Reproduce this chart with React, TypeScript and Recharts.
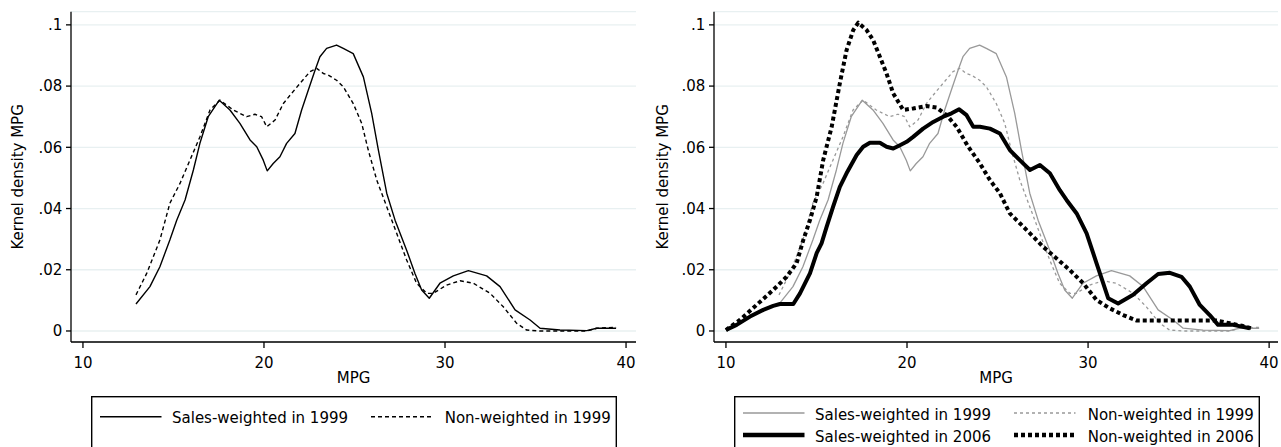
import React from "react";
import { LineChart, Line, XAxis, YAxis, CartesianGrid, Legend } from "recharts";

// kernel density estimates of MPG
const sales1999Mpg = [12.93, 13.7, 14.25, 14.8, 15.18, 15.64, 16.1, 16.46, 16.92, 17.53, 18.12, 18.67, 19.23, 19.6, 19.96, 20.18, 20.51, 20.88, 21.25, 21.71, 22.08, 22.45, 22.82, 23.09, 23.46, 24.01, 24.38, 24.93, 25.49, 25.95, 26.32, 26.78, 27.24, 27.88, 28.34, 28.71, 29.13, 29.72, 30.46, 31.29, 32.3, 33.04, 33.87, 34.7, 35.25, 36.35, 37.83, 38.38, 39.45];
const sales1999Density = [0.0088, 0.0145, 0.021, 0.0297, 0.0362, 0.0428, 0.0526, 0.0613, 0.07, 0.0754, 0.0722, 0.0678, 0.0624, 0.0602, 0.0558, 0.0523, 0.0547, 0.0569, 0.0613, 0.0645, 0.0722, 0.0787, 0.0852, 0.0896, 0.0923, 0.0934, 0.0923, 0.0906, 0.083, 0.0711, 0.0591, 0.045, 0.0362, 0.0264, 0.0188, 0.0134, 0.0107, 0.0156, 0.018, 0.0197, 0.018, 0.0145, 0.0069, 0.0036, 0.0009, 0.0003, 0.0001, 0.0009, 0.0009];

const nonw1999Mpg = [12.93, 13.52, 14.25, 14.8, 15.36, 15.91, 16.46, 17.02, 17.57, 18.3, 19.04, 19.5, 19.87, 20.15, 20.61, 21.07, 21.44, 21.99, 22.54, 22.91, 23.28, 23.55, 24.01, 24.38, 24.93, 25.4, 25.76, 26.23, 26.78, 27.33, 27.88, 28.43, 28.99, 29.35, 30.09, 30.83, 31.56, 32.49, 33.22, 33.96, 34.51, 35.25, 37.83, 38.38, 39.45];
const nonw1999Density = [0.0118, 0.0188, 0.0297, 0.0417, 0.0482, 0.0558, 0.0634, 0.0722, 0.0754, 0.0722, 0.07, 0.0708, 0.07, 0.0667, 0.0689, 0.0743, 0.077, 0.0809, 0.0847, 0.0858, 0.0841, 0.0836, 0.0819, 0.0798, 0.0743, 0.0678, 0.0591, 0.0493, 0.0406, 0.0319, 0.0232, 0.0156, 0.0123, 0.0123, 0.015, 0.0164, 0.0156, 0.0123, 0.0079, 0.0025, 0.0003, 0, 0, 0.0009, 0.0012];

const sales2006Mpg = [10.0, 10.59, 11.33, 12.06, 12.61, 12.98, 13.72, 14.09, 14.64, 15.01, 15.28, 15.56, 15.92, 16.29, 16.66, 17.22, 17.58, 17.95, 18.5, 18.87, 19.24, 19.61, 19.98, 20.34, 20.89, 21.45, 22.0, 22.46, 22.88, 23.29, 23.66, 24.03, 24.58, 25.13, 25.68, 26.23, 26.79, 27.34, 27.89, 28.44, 28.81, 29.37, 29.92, 30.47, 31.11, 31.66, 32.49, 33.23, 33.87, 34.52, 35.16, 35.62, 36.17, 36.72, 37.18, 38.01, 38.93];
const sales2006Density = [0.0003, 0.002, 0.0047, 0.0069, 0.0082, 0.0088, 0.0088, 0.0123, 0.0188, 0.0254, 0.0286, 0.034, 0.0406, 0.0471, 0.0515, 0.0575, 0.0602, 0.0615, 0.0615, 0.0602, 0.0596, 0.0607, 0.0618, 0.0634, 0.0661, 0.0683, 0.07, 0.0711, 0.0724, 0.0705, 0.0667, 0.0667, 0.0661, 0.0645, 0.0591, 0.0558, 0.0526, 0.0542, 0.0515, 0.046, 0.0428, 0.0384, 0.0319, 0.0221, 0.0107, 0.009, 0.0118, 0.0156, 0.0186, 0.019, 0.0177, 0.0145, 0.0085, 0.0052, 0.002, 0.002, 0.0009];

const nonw2006Mpg = [10.0, 10.77, 11.69, 12.61, 13.35, 13.9, 14.27, 14.64, 15.01, 15.37, 15.84, 16.29, 16.66, 17.03, 17.31, 17.77, 18.13, 18.5, 18.87, 19.24, 19.79, 20.34, 21.08, 21.63, 22.19, 22.74, 23.38, 24.03, 24.58, 25.13, 25.68, 26.23, 26.79, 27.52, 28.26, 28.99, 29.73, 30.47, 31.2, 31.94, 32.68, 35.25, 37.09, 37.83, 38.57, 39.03];
const nonw2006Density = [0.0003, 0.0036, 0.0085, 0.0134, 0.0177, 0.0221, 0.0297, 0.0362, 0.0438, 0.0558, 0.0667, 0.0809, 0.0917, 0.0983, 0.1007, 0.0983, 0.095, 0.0896, 0.0841, 0.0776, 0.0722, 0.0727, 0.0735, 0.073, 0.0705, 0.0667, 0.0602, 0.0547, 0.0493, 0.045, 0.0384, 0.0352, 0.0319, 0.0275, 0.0237, 0.0199, 0.0156, 0.0101, 0.0074, 0.0052, 0.0034, 0.0034, 0.0034, 0.0025, 0.0016, 0.0009];

const xTicks = [10, 20, 30, 40];
const yTicks = [0, 0.02, 0.04, 0.06, 0.08, 0.1];

const toPoints = (mpg: number[], density: number[]) =>
  mpg.map((m, i) => ({ mpg: m, density: density[i] }));

const FONT = "DejaVu Sans";
const GRID = "#e8f0f1";
const GRAY = "#999999";

type Series = {
  key: string;
  name: string;
  data: { mpg: number; density: number }[];
  stroke: string;
  width: number;
  dash?: string;
  legendWidth?: number;
};

const leftSeries: Series[] = [
  { key: "s99", name: "Sales-weighted in 1999", data: toPoints(sales1999Mpg, sales1999Density), stroke: "#000", width: 1.4 },
  { key: "n99", name: "Non-weighted in 1999", data: toPoints(nonw1999Mpg, nonw1999Density), stroke: "#000", width: 1.4, dash: "4 3" },
];

const rightSeries: Series[] = [
  { key: "s99", name: "Sales-weighted in 1999", data: toPoints(sales1999Mpg, sales1999Density), stroke: GRAY, width: 1.3 },
  { key: "n99", name: "Non-weighted in 1999", data: toPoints(nonw1999Mpg, nonw1999Density), stroke: GRAY, width: 1.3, dash: "3 3" },
  { key: "s06", name: "Sales-weighted in 2006", data: toPoints(sales2006Mpg, sales2006Density), stroke: "#000", width: 4, legendWidth: 4.5 },
  { key: "n06", name: "Non-weighted in 2006", data: toPoints(nonw2006Mpg, nonw2006Density), stroke: "#000", width: 4, dash: "4 3", legendWidth: 4.5 },
];

const fmtY = (v: number) => (v === 0 ? "0" : String(v).replace(/^0/, ""));

const YLabel = (props: any) => {
  const vb = props.viewBox || { x: 0, y: 11.7, width: 71, height: 330.3 };
  const x = vb.x + vb.width - props.gap;
  const y = vb.y + vb.height / 2;
  return (
    <text x={x} y={y} transform={`rotate(-90 ${x} ${y})`} textAnchor="middle" fontSize={15} fill="#000" fontFamily={FONT}>
      Kernel density MPG
    </text>
  );
};

const LegendBox = ({ series, rows, width }: { series: Series[]; rows: number[]; width: number }) => (
  <svg width={width} height={60} style={{ display: "block" }}>
    <rect x={0.7} y={0.7} width={width - 1.4} height={70} fill="#fff" stroke="#000" strokeWidth={1.4} />
    {series.map((s, i) => {
      const col = i % 2;
      const y = rows[Math.floor(i / 2)];
      const x0 = 9 + col * 271;
      return (
        <g key={s.key}>
          <line x1={x0} x2={x0 + 61.5} y1={y} y2={y} stroke={s.stroke} strokeWidth={s.legendWidth ?? s.width} strokeDasharray={s.dash} />
          <text x={81 + col * 272.7} y={y + 6.5} fontSize={15} fill="#000" fontFamily={FONT}>
            {s.name}
          </text>
        </g>
      );
    })}
  </svg>
);

const Panel = ({ series, width, axisWidth, rightMargin, xMax, labelGap, legendLeft, rows }: any) => (
  <LineChart width={width} height={447} margin={{ top: 11.7, right: rightMargin, bottom: 60, left: 0 }}>
    <CartesianGrid horizontal vertical={false} stroke={GRID} strokeWidth={1.3} />
    <XAxis
      type="number"
      dataKey="mpg"
      domain={[9.34, xMax]}
      allowDataOverflow
      ticks={xTicks}
      height={45}
      tickSize={6}
      tickMargin={9.5}
      stroke="#000"
      strokeWidth={1.3}
      tick={{ fill: "#000", fontSize: 15, fontFamily: FONT }}
      label={{ value: "MPG", position: "insideBottom", offset: 3.7, fill: "#000", fontSize: 15, fontFamily: FONT }}
    />
    <YAxis
      type="number"
      dataKey="density"
      domain={[-0.0036, 0.1043]}
      allowDataOverflow
      ticks={yTicks}
      width={axisWidth}
      tickSize={5}
      tickMargin={3.7}
      tickFormatter={fmtY}
      stroke="#000"
      strokeWidth={1.3}
      tick={{ fill: "#000", fontSize: 15, fontFamily: FONT }}
      label={<YLabel gap={labelGap} />}
    />
    {series.map((s: Series) => (
      <Line
        key={s.key}
        data={s.data}
        dataKey="density"
        name={s.name}
        type="linear"
        stroke={s.stroke}
        strokeWidth={s.width}
        strokeDasharray={s.dash}
        strokeLinejoin="round"
        dot={false}
        activeDot={false}
        isAnimationActive={false}
      />
    ))}
    <Legend
      layout="vertical"
      align="center"
      verticalAlign="middle"
      wrapperStyle={{ left: legendLeft, top: 396, width: 526, height: 60 }}
      content={() => <LegendBox series={series} rows={rows} width={526} />}
    />
  </LineChart>
);

export default function App() {
  return (
    <div style={{ position: "absolute", left: 0, top: 0, width: 1281, height: 447, overflow: "hidden", background: "#fff", fontFamily: FONT }}>
      <div style={{ position: "absolute", left: 0, top: 0 }}>
        <Panel series={leftSeries} width={640} axisWidth={71} rightMargin={4} xMax={40.55} labelGap={48.3} legendLeft={90.7} rows={[20.7]} />
      </div>
      <div style={{ position: "absolute", left: 640, top: 0 }}>
        <Panel series={rightSeries} width={641} axisWidth={74} rightMargin={3} xMax={40.49} labelGap={46.3} legendLeft={94.3} rows={[17, 39]} />
      </div>
    </div>
  );
}
